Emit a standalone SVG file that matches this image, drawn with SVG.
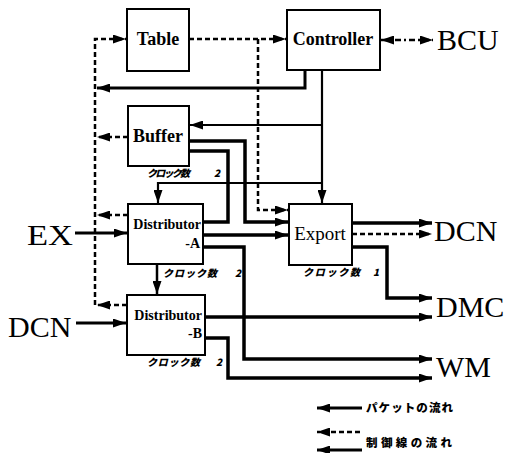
<svg xmlns="http://www.w3.org/2000/svg" width="506" height="453" viewBox="0 0 506 453">
<style>
.box{fill:#fff;stroke:#000;stroke-width:2}
.bt{font-family:"Liberation Serif",serif;font-weight:bold;font-size:18px;fill:#000}
.dt{font-family:"Liberation Serif",serif;font-weight:bold;font-size:14px;fill:#000}
.big{font-family:"Liberation Serif",serif;font-size:30px;fill:#000}
.jp{font-family:"Noto Sans CJK JP",sans-serif;font-weight:900;font-size:10px;fill:#000;font-style:italic}
.jl{font-family:"Noto Sans CJK JP",sans-serif;font-weight:900;font-size:11.5px;fill:#000}
.s{fill:none;stroke:#000;stroke-width:3.5}
.m{fill:none;stroke:#000;stroke-width:2.2}
.d{fill:none;stroke:#000;stroke-width:2.5;stroke-dasharray:5,3}
.dd{fill:none;stroke:#000;stroke-width:2.5;stroke-dasharray:6,3,2,3}
</style>
<defs>
<marker id="a" markerUnits="userSpaceOnUse" markerWidth="13" markerHeight="9" refX="13" refY="4.5" orient="auto">
<path d="M0,0 L13,4.5 L0,9 z" fill="#000"/>
</marker>
<marker id="as" markerUnits="userSpaceOnUse" markerWidth="13" markerHeight="9" refX="0" refY="4.5" orient="auto">
<path d="M13,0 L0,4.5 L13,9 z" fill="#000"/>
</marker>
</defs>
<g id="connectors">
<path class="d" d="M189,39 H286" marker-end="url(#a)"/>
<path class="d" d="M258,39 V210 H288" marker-end="url(#a)"/>
<path class="d" d="M95,305 V39 H126" marker-end="url(#a)"/>
<path class="d" d="M127,305 H97" marker-end="url(#a)"/>
<path class="d" d="M128,137 H97" marker-end="url(#a)"/>
<path class="d" d="M128,215 H97" marker-end="url(#a)"/>
<path class="s" style="stroke-width:3" d="M305,70 V88 H97" marker-end="url(#a)"/>
<path class="m" d="M322,70 V203" marker-end="url(#a)"/>
<path class="m" d="M322,125 H190" marker-end="url(#a)"/>
<path class="m" d="M322,183 H158 V203" marker-end="url(#a)"/>
<path class="s" d="M189,141 H245 V222 H288" marker-end="url(#a)"/>
<path class="s" d="M189,151 H228 V222 H203"/>
<path class="s" d="M203,235 H288" marker-end="url(#a)"/>
<path class="s" d="M203,247 H244 V359 H432" marker-end="url(#a)"/>
<path class="m" style="stroke-width:2.5" d="M157,264 V294" marker-end="url(#a)"/>
<path class="s" style="stroke-width:3" d="M75,233 H127" marker-end="url(#a)"/>
<path class="s" style="stroke-width:3" d="M76,323 H126" marker-end="url(#a)"/>
<path class="s" d="M205,317 H432" marker-end="url(#a)"/>
<path class="s" d="M205,338 H228 V378 H432" marker-end="url(#a)"/>
<path class="s" d="M352,223 H432" marker-end="url(#a)"/>
<path class="d" d="M352,234 H432" marker-end="url(#a)"/>
<path class="s" d="M352,247 H387 V298 H432" marker-end="url(#a)"/>
<path class="dd" d="M381,40 H433" marker-start="url(#as)" marker-end="url(#a)"/>
</g>
<g id="table">
<rect class="box" x="127" y="9" width="62" height="62"/>
<text class="bt" x="158" y="45" text-anchor="middle">Table</text>
</g>
<g id="controller">
<rect class="box" x="287" y="10" width="93" height="60"/>
<text class="bt" x="333" y="45" text-anchor="middle">Controller</text>
</g>
<g id="bcu"><text class="big" x="437" y="50">BCU</text></g>
<g id="buffer">
<rect class="box" x="128" y="106" width="61" height="60"/>
<text class="bt" x="158" y="142" text-anchor="middle">Buffer</text>
<text class="jp" x="147" y="177" textLength="43" lengthAdjust="spacing">クロック数</text>
<text class="jp" x="214" y="177">2</text>
</g>
<g id="distributor-a">
<rect class="box" x="128" y="204" width="75" height="60"/>
<text class="dt" x="201" y="229" text-anchor="end">Distributor</text>
<text class="dt" x="200" y="248" text-anchor="end">-A</text>
<text class="jp" x="163" y="277" textLength="54" lengthAdjust="spacing">クロック数</text>
<text class="jp" x="235" y="277">2</text>
</g>
<g id="distributor-b">
<rect class="box" x="127" y="295" width="78" height="60"/>
<text class="dt" x="202" y="320" text-anchor="end">Distributor</text>
<text class="dt" x="202" y="338" text-anchor="end">-B</text>
<text class="jp" x="147" y="366" textLength="53" lengthAdjust="spacing">クロック数</text>
<text class="jp" x="216" y="366">2</text>
</g>
<g id="export">
<rect class="box" x="289" y="204" width="63" height="61"/>
<text class="big" style="font-size:19px" x="320" y="240" text-anchor="middle">Export</text>
<text class="jp" x="303" y="276" textLength="57" lengthAdjust="spacing">クロック数</text>
<text class="jp" x="373" y="276">1</text>
</g>
<g id="ex"><text class="big" x="27" y="245" textLength="46" lengthAdjust="spacingAndGlyphs">EX</text></g>
<g id="dcn-in"><text class="big" x="8" y="337">DCN</text></g>
<g id="dcn-out"><text class="big" x="434" y="241">DCN</text></g>
<g id="dmc"><text class="big" x="436" y="317">DMC</text></g>
<g id="wm"><text class="big" x="436" y="377">WM</text></g>
<g id="legend">
<path class="s" style="stroke-width:3" d="M362,408 H317" marker-end="url(#a)"/>
<text class="jl" x="366" y="412" textLength="87" lengthAdjust="spacing">パケットの流れ</text>
<path class="d" d="M360,432 H317" marker-end="url(#a)"/>
<path class="s" style="stroke-width:3" d="M362,450 H317" marker-end="url(#a)"/>
<text class="jl" x="366" y="447" textLength="86" lengthAdjust="spacing">制御線の流れ</text>
</g>
</svg>
